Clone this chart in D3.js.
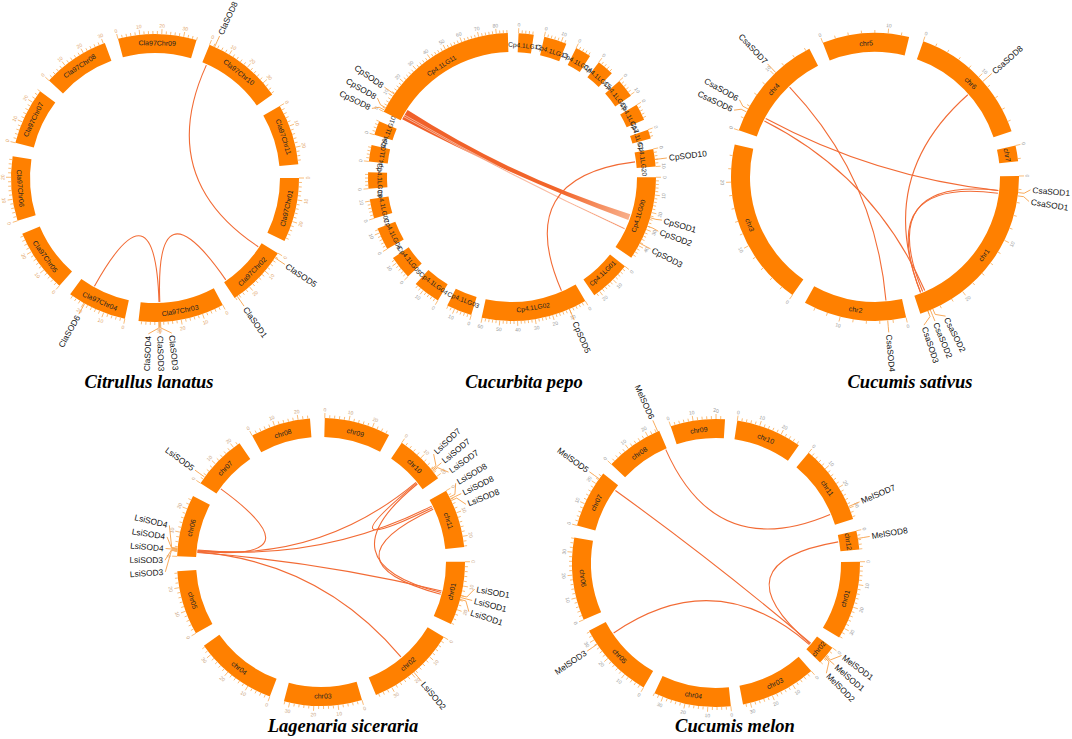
<!DOCTYPE html>
<html>
<head>
<meta charset="UTF-8">
<title>SOD circos</title>
<script src="https://d3js.org/d3.v7.min.js"></script>
<style>
    body { margin: 0; background: #fff; }
    svg { display: block; font-family: "Liberation Sans", Arial, sans-serif; }
    .title { font-family: "Liberation Serif", "Times New Roman", serif; font-weight: bold; font-style: italic; font-size: 18.5px; }
</style>
</head>
<body>
<svg id="chart" width="1072" height="739"></svg>
<script>
    // Citrullus lanatus
    const claChr = ["Cla97Chr01","Cla97Chr02","Cla97Chr03","Cla97Chr04","Cla97Chr05","Cla97Chr06","Cla97Chr07","Cla97Chr08","Cla97Chr09","Cla97Chr10","Cla97Chr11"];
    const claLen = [29.5, 28.4, 39.4, 27.3, 29.1, 29.5, 26.1, 30.7, 36, 36.7, 27.8];
    const claGene = ["ClaSOD8","ClaSOD5","ClaSOD1","ClaSOD3","ClaSOD3","ClaSOD4","ClaSOD6"];
    const claGeneChr = ["Cla97Chr10","Cla97Chr02","Cla97Chr02","Cla97Chr03","Cla97Chr03","Cla97Chr03","Cla97Chr04"];
    const claGenePos = [2.5, 2.5, 27, 29.4, 29.8, 30.2, 19.5];
    const claLinks = [[0, 1], [6, 4], [3, 2]];

    // Cucurbita pepo
    const cpChr = ["Cp4.1LG00","Cp4.1LG01","Cp4.1LG02","Cp4.1LG03","Cp4.1LG04","Cp4.1LG05","Cp4.1LG06","Cp4.1LG07","Cp4.1LG08","Cp4.1LG09","Cp4.1LG10","Cp4.1LG11","Cp4.1LG12","Cp4.1LG13","Cp4.1LG14","Cp4.1LG15","Cp4.1LG16","Cp4.1LG17","Cp4.1LG19","Cp4.1LG20"];
    const cpLen = [47.9, 23.7, 60.3, 14.5, 15.5, 13.4, 12.7, 11, 9.3, 9.3, 8, 86.5, 8.6, 13, 9, 9.6, 10.6, 9.3, 5.2, 10];
    const cpGene = ["CpSOD1","CpSOD2","CpSOD3","CpSOD5","CpSOD8","CpSOD8","CpSOD8","CpSOD10"];
    const cpGeneChr = ["Cp4.1LG00","Cp4.1LG00","Cp4.1LG00","Cp4.1LG02","Cp4.1LG11","Cp4.1LG11","Cp4.1LG11","Cp4.1LG20"];
    const cpGenePos = [23, 28, 38.5, 10, 1, 2.5, 11.5, 6];
    const cpLinks = [[7, 3]];
    // wide syntenic blocks: [chr, start, end] on each side
    const cpBlockA = [["Cp4.1LG11", 1, 8], ["Cp4.1LG11", 3, 4.2]];
    const cpBlockB = [["Cp4.1LG00", 24.5, 28.5], ["Cp4.1LG00", 34.2, 35]];

    // Cucumis sativus
    const csaChr = ["chr1","chr2","chr3","chr4","chr5","chr6","chr7"];
    const csaLen = [27.2, 15.7, 25.7, 16.6, 13.2, 19.6, 2.4];
    const csaGene = ["CsaSOD1","CsaSOD1","CsaSOD2","CsaSOD2","CsaSOD3","CsaSOD4","CsaSOD6","CsaSOD6","CsaSOD7","CsaSOD8"];
    const csaGeneChr = ["chr1","chr1","chr1","chr1","chr1","chr2","chr4","chr4","chr4","chr6"];
    const csaGenePos = [2.5, 3.0, 25.2, 25.6, 26.0, 2.8, 3.5, 3.0, 10.4, 10.9];
    const csaLinks = [[8, 5], [6, 0], [7, 2], [9, 4], [0, 3], [1, 4]];

    // Lagenaria siceraria
    const lsiChr = ["chr01","chr02","chr03","chr04","chr05","chr06","chr07","chr08","chr09","chr10","chr11"];
    const lsiLen = [26.4, 37.2, 32.4, 34.6, 26.8, 25.8, 23, 24.9, 27.5, 20.9, 24.4];
    const lsiGene = ["LsiSOD1","LsiSOD1","LsiSOD1","LsiSOD2","LsiSOD3","LsiSOD3","LsiSOD4","LsiSOD4","LsiSOD4","LsiSOD5","LsiSOD7","LsiSOD7","LsiSOD7","LsiSOD8","LsiSOD8","LsiSOD8"];
    const lsiGeneChr = ["chr01","chr01","chr01","chr02","chr06","chr06","chr06","chr06","chr06","chr07","chr10","chr10","chr10","chr11","chr11","chr11"];
    const lsiGenePos = [14, 14.8, 15.6, 19, 2.2, 2.5, 2.8, 3.1, 3.4, 3, 16.4, 16.9, 17.4, 3, 3.8, 4.6];
    const lsiLinks = [[6, 9], [7, 10], [8, 13], [4, 0], [5, 3], [11, 14], [12, 1], [15, 2]];

    // Cucumis melon
    const melChr = ["chr01","chr02","chr03","chr04","chr05","chr06","chr07","chr08","chr09","chr10","chr11","chr12"];
    const melLen = [34.5, 8.3, 33.3, 34, 34.5, 36.4, 25.4, 25.5, 23.9, 29, 35, 8.2];
    const melGene = ["MelSOD1","MelSOD1","MelSOD2","MelSOD3","MelSOD5","MelSOD6","MelSOD7","MelSOD8"];
    const melGeneChr = ["chr02","chr02","chr02","chr05","chr07","chr08","chr11","chr12"];
    const melGenePos = [4.5, 5, 5.5, 27.7, 22.5, 24.8, 29.3, 3.4];
    const melLinks = [[5, 6], [4, 0], [7, 1], [3, 2]];

    const plots = [
        {title: "Citrullus lanatus", cx: 155, cy: 178, tx: 149, ty: 388, start: 90, gap: 5.5, chr: claChr, len: claLen,
         gene: claGene, geneChr: claGeneChr, genePos: claGenePos, links: claLinks,
         labR: 10, labSize: 7, tickColor: "#e2a468"},
        {title: "Cucurbita pepo", cx: 512, cy: 177, tx: 524, ty: 388, start: 90.1, gap: 4.26, chr: cpChr, len: cpLen,
         gene: cpGene, geneChr: cpGeneChr, genePos: cpGenePos, links: cpLinks, blockA: cpBlockA, blockB: cpBlockB,
         labR: 7, labSize: 6.6, tickColor: "#999"},
        {title: "Cucumis sativus", cx: 875, cy: 177, tx: 910, ty: 388, start: 89.6, gap: 5.87, chr: csaChr, len: csaLen,
         gene: csaGene, geneChr: csaGeneChr, genePos: csaGenePos, links: csaLinks,
         labR: 9, labSize: 7, tickColor: "#999"},
        {title: "Lagenaria siceraria", cx: 321, cy: 562, tx: 343, ty: 732, start: 89.9, gap: 5.9, chr: lsiChr, len: lsiLen,
         gene: lsiGene, geneChr: lsiGeneChr, genePos: lsiGenePos, links: lsiLinks,
         labR: 9, labSize: 7, tickColor: "#c9a27c"},
        {title: "Cucumis melon", cx: 716, cy: 563, tx: 735, ty: 732, start: 89.5, gap: 4.9, chr: melChr, len: melLen,
         gene: melGene, geneChr: melGeneChr, genePos: melGenePos, links: melLinks,
         labR: 9, labSize: 7, tickColor: "#999"}
    ];

    const R_OUT = 144, R_IN = 125;
    const BAND = "#ff8000", TICK = "#f9a953", LINK = "#f26b35", GLINE = "#f7a048";

    const svg = d3.select("#chart");
    svg.append("rect").attr("width", 1072).attr("height", 739).attr("fill", "#fff");
    const defs = svg.append("defs");

    const rad = d => d * Math.PI / 180;
    const norm = d => ((d % 360) + 360) % 360;
    const pt = (deg, r) => [r * Math.sin(rad(deg)), -r * Math.cos(rad(deg))];

    function tangent(deg, r) {
        deg = norm(deg);
        const flip = deg > 90 && deg < 270;
        return `rotate(${deg}) translate(0,${-r})` + (flip ? " rotate(180)" : "");
    }

    function radial(deg, r) {
        deg = norm(deg);
        return deg < 180
            ? {t: `rotate(${deg - 90}) translate(${r},0)`, anchor: "start"}
            : {t: `rotate(${deg + 90}) translate(${-r},0)`, anchor: "end"};
    }

    // push label angles apart so text does not overlap
    function spread(angles, minSep) {
        const idx = angles.map((a, i) => i).sort((i, j) => angles[i] - angles[j]);
        const out = angles.slice();
        for (let it = 0; it < 300; it++) {
            let moved = false;
            for (let k = 1; k < idx.length; k++) {
                const i = idx[k - 1], j = idx[k];
                const d = out[j] - out[i];
                if (d < minSep - 1e-6) {
                    const push = (minSep - d) / 2;
                    out[i] -= push; out[j] += push; moved = true;
                }
            }
            if (!moved) break;
        }
        return out;
    }

    function drawCircos(p, pi) {
        const g = svg.append("g").attr("transform", `translate(${p.cx},${p.cy})`);
        const k = (360 - p.chr.length * p.gap) / d3.sum(p.len);
        const scale = {};
        let a = p.start;
        p.chr.forEach((c, i) => {
            scale[c] = d3.scaleLinear().domain([0, p.len[i]]).range([a, a + p.len[i] * k]);
            a += p.len[i] * k + p.gap;
        });

        const geneAng = p.genePos.map((v, i) => scale[p.geneChr[i]](v));

        // wide blocks
        if (p.blockA) {
            const ribbon = d3.ribbon().radius(R_IN - 1);
            p.blockA.forEach((b, i) => {
                const c = p.blockB[i];
                const sa = scale[b[0]], sb = scale[c[0]];
                const gid = `rb${pi}_${i}`;
                const s0 = pt(sa((b[1] + b[2]) / 2), R_IN), t0 = pt(sb((c[1] + c[2]) / 2), R_IN);
                const grad = defs.append("linearGradient").attr("id", gid)
                    .attr("gradientUnits", "userSpaceOnUse")
                    .attr("x1", s0[0]).attr("y1", s0[1]).attr("x2", t0[0]).attr("y2", t0[1]);
                grad.append("stop").attr("offset", 0).attr("stop-color", "#f0602a");
                grad.append("stop").attr("offset", 0.7).attr("stop-color", "#f2652a");
                grad.append("stop").attr("offset", 1).attr("stop-color", i === 0 ? "#f8b08c" : "#f2652a");
                g.append("path")
                    .attr("d", ribbon({
                        source: {startAngle: rad(sa(b[1])), endAngle: rad(sa(b[2]))},
                        target: {startAngle: rad(sb(c[1])), endAngle: rad(sb(c[2]))}
                    }))
                    .attr("fill", `url(#${gid})`)
                    .attr("stroke", i === 0 ? "none" : "#fff")
                    .attr("stroke-width", 0.5);
            });
        }

        // gene pair links
        p.links.forEach(([i, j]) => {
            const path = d3.path();
            const p0 = pt(geneAng[i], R_IN - 1), p1 = pt(geneAng[j], R_IN - 1);
            path.moveTo(p0[0], p0[1]);
            path.quadraticCurveTo(0, 0, p1[0], p1[1]);
            g.append("path")
                .attr("d", path.toString())
                .attr("fill", "none")
                .attr("stroke", LINK)
                .attr("stroke-width", 1.1);
        });

        // chromosomes
        p.chr.forEach((c, i) => {
            const s = scale[c];
            const [a0, a1] = s.range();
            const cg = g.append("g");
            cg.append("path")
                .attr("d", d3.arc()({innerRadius: R_IN, outerRadius: R_OUT, startAngle: rad(a0), endAngle: rad(a1)}))
                .attr("fill", BAND);

            const ticks = d3.range(0, p.len[i] + 1e-9, 2);
            cg.selectAll("line.tk").data(ticks).join("line")
                .attr("class", "tk")
                .attr("x1", v => pt(s(v), R_OUT)[0])
                .attr("y1", v => pt(s(v), R_OUT)[1])
                .attr("x2", v => pt(s(v), R_OUT + (v % 10 === 0 ? 5 : 3))[0])
                .attr("y2", v => pt(s(v), R_OUT + (v % 10 === 0 ? 5 : 3))[1])
                .attr("stroke", TICK)
                .attr("stroke-width", 0.8);

            cg.selectAll("text.tl").data(ticks.filter(v => v % 10 === 0)).join("text")
                .attr("class", "tl")
                .attr("transform", v => tangent(s(v), R_OUT + 8.5))
                .attr("text-anchor", "middle")
                .attr("dominant-baseline", "central")
                .attr("font-size", 5)
                .attr("fill", p.tickColor)
                .text(v => v);

            cg.append("text")
                .attr("transform", tangent((a0 + a1) / 2, R_IN + p.labR))
                .attr("text-anchor", "middle")
                .attr("dominant-baseline", "central")
                .attr("font-size", p.labSize)
                .attr("fill", "#222")
                .text(c);
        });

        // gene labels
        const labAng = spread(geneAng, 4.3);
        p.gene.forEach((name, i) => {
            const ga = geneAng[i], la = labAng[i];
            const q0 = pt(ga, R_OUT), q1 = pt(ga, R_OUT + 6), q2 = pt(la, R_OUT + 12);
            g.append("polyline")
                .attr("points", [q0, q1, q2].map(d => d.join(",")).join(" "))
                .attr("fill", "none")
                .attr("stroke", GLINE)
                .attr("stroke-width", 0.9);
            const r = radial(la, R_OUT + 14);
            g.append("text")
                .attr("transform", r.t)
                .attr("text-anchor", r.anchor)
                .attr("dominant-baseline", "central")
                .attr("font-size", 8.4)
                .attr("fill", "#111")
                .text(name);
        });

        svg.append("text")
            .attr("class", "title")
            .attr("x", p.tx)
            .attr("y", p.ty)
            .attr("text-anchor", "middle")
            .text(p.title);
    }

    plots.forEach(drawCircos);
</script>
</body>
</html>
